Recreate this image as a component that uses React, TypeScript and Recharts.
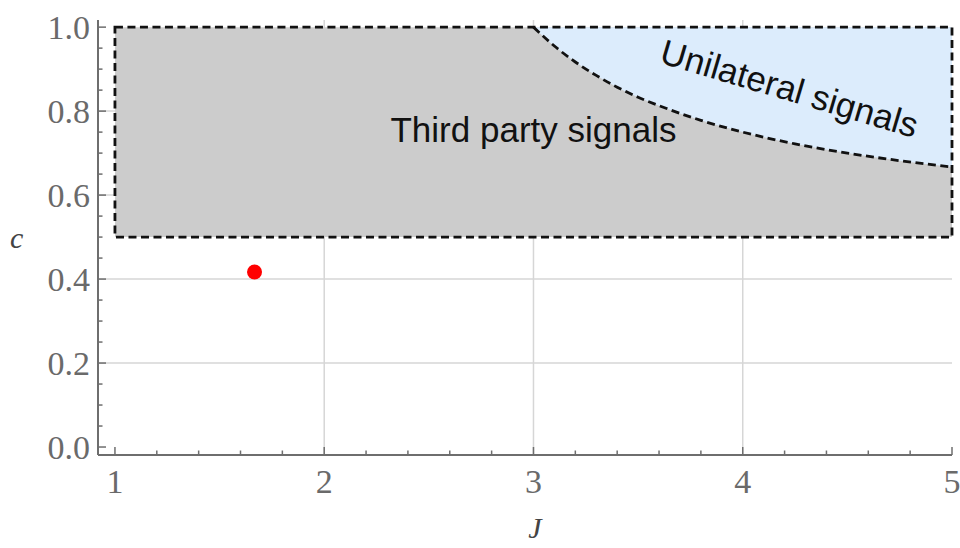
import {
  Area,
  CartesianGrid,
  ComposedChart,
  Line,
  ReferenceArea,
  ReferenceDot,
  Scatter,
  XAxis,
  YAxis,
} from 'recharts';

// boundary between third-party and unilateral signals
const boundaryJ = [3.0, 3.1, 3.2, 3.3, 3.4, 3.5, 3.6, 3.8, 4.0, 4.25, 4.5, 4.75, 5.0];
const boundaryC = [1.0, 0.955, 0.917, 0.885, 0.857, 0.833, 0.813, 0.778, 0.75, 0.722, 0.7, 0.682, 0.667];

// third party region (rectangle)
const regionJ = [1, 5];
const regionC = [0.5, 1];

// the red point
const pointJ = [1.667];
const pointC = [0.417];

const xMajor = [1, 2, 3, 4, 5];
const xTicks = [1, 1.2, 1.4, 1.6, 1.8, 2, 2.2, 2.4, 2.6, 2.8, 3, 3.2, 3.4, 3.6, 3.8, 4, 4.2, 4.4, 4.6, 4.8, 5];
const yMajor = [0, 0.2, 0.4, 0.6, 0.8, 1];
const yTicks = [
  0, 0.05, 0.1, 0.15, 0.2, 0.25, 0.3, 0.35, 0.4, 0.45, 0.5, 0.55, 0.6, 0.65, 0.7, 0.75, 0.8, 0.85, 0.9,
  0.95, 1,
];
const xGrid = [2, 3, 4];
const yGrid = [0.2, 0.4, 0.6, 0.8];

const curveData = boundaryJ.map((J, i) => ({ J, c: boundaryC[i], band: [boundaryC[i], 1] }));
const pointData = pointJ.map((J, i) => ({ J, c: pointC[i] }));

const isMajor = (v: number, majors: number[]) => majors.some((m) => Math.abs(m - v) < 1e-6);

const tickFont = { fontFamily: '"Liberation Serif", "Times New Roman", serif', fontSize: 34, fill: '#6a6a6a' };

function BottomTick({ x, y, payload }: any) {
  const major = isMajor(payload.value, xMajor);
  return (
    <g>
      <line x1={x} x2={x} y1={y} y2={y - (major ? 8 : 4.5)} stroke="#6e6e6e" strokeWidth={1.5} />
      {major && (
        <text x={x} y={y + 38} textAnchor="middle" {...tickFont}>
          {payload.value}
        </text>
      )}
    </g>
  );
}

function TopTick({ x, y, payload }: any) {
  const major = isMajor(payload.value, xMajor);
  return <line x1={x} x2={x} y1={y} y2={y + (major ? 8 : 4.5)} stroke="#9a9a9a" strokeWidth={1.5} />;
}

function LeftTick({ x, y, payload }: any) {
  const major = isMajor(payload.value, yMajor);
  return (
    <g>
      <line x1={x} x2={x + (major ? 8 : 4.5)} y1={y} y2={y} stroke="#6e6e6e" strokeWidth={1.5} />
      {major && (
        <text x={x - 8} y={y} textAnchor="end" dominantBaseline="central" {...tickFont}>
          {payload.value.toFixed(1)}
        </text>
      )}
    </g>
  );
}

function RightTick({ x, y, payload }: any) {
  const major = isMajor(payload.value, yMajor);
  return <line x1={x} x2={x - (major ? 8 : 4.5)} y1={y} y2={y} stroke="#9a9a9a" strokeWidth={1.5} />;
}

// text placed at a data point; tilt in degrees (clockwise)
function RegionLabel(props: any) {
  const { viewBox, text, tilt } = props;
  const cx = viewBox.x + (viewBox.width || 0) / 2;
  const cy = viewBox.y + (viewBox.height || 0) / 2;
  return (
    <text
      x={cx}
      y={cy}
      textAnchor="middle"
      transform={tilt ? `rotate(${tilt} ${cx} ${cy})` : undefined}
      fontFamily='"Liberation Sans", Arial, sans-serif'
      fontSize={35}
      fill="#111"
    >
      {text}
    </text>
  );
}

const RedDot = ({ cx, cy }: any) => <circle cx={cx} cy={cy} r={7.5} fill="#ff0000" />;

const dash = '8 4.5';

export default function App() {
  return (
    <div style={{ width: 960, height: 548 }}>
      <style>{'body{margin:0;overflow:hidden}'}</style>
      <ComposedChart width={960} height={548} data={curveData} margin={{ top: 20, right: 8, bottom: 0, left: 0 }}>
        <CartesianGrid horizontalValues={yGrid} verticalValues={xGrid} stroke="#d6d6d6" strokeWidth={1.5} />
        <XAxis
          dataKey="J"
          type="number"
          domain={[0.919, 5]}
          allowDataOverflow
          ticks={xTicks}
          interval={0}
          tickSize={0}
          tickMargin={0}
          tick={<BottomTick />}
          height={93}
          stroke="#6e6e6e"
          strokeWidth={2}
          label={{
            value: 'J',
            position: 'insideBottom',
            offset: 10,
            dx: 10,
            style: { fontFamily: '"Liberation Serif", serif', fontStyle: 'italic', fontSize: 30, fill: '#444' },
          }}
        />
        <XAxis
          xAxisId="top"
          orientation="top"
          dataKey="J"
          type="number"
          domain={[0.919, 5]}
          allowDataOverflow
          ticks={xTicks}
          interval={0}
          tickSize={0}
          tickMargin={0}
          tick={<TopTick />}
          height={0}
          stroke="#9a9a9a"
          strokeWidth={1.5}
        />
        <YAxis
          dataKey="c"
          type="number"
          domain={[-0.019, 1.017]}
          allowDataOverflow
          ticks={yTicks}
          interval={0}
          tickSize={0}
          tickMargin={0}
          tick={<LeftTick />}
          width={98}
          stroke="#6e6e6e"
          strokeWidth={2}
          label={{
            value: 'c',
            position: 'insideLeft',
            offset: 10,
            style: { fontFamily: '"Liberation Serif", serif', fontStyle: 'italic', fontSize: 30, fill: '#444' },
          }}
        />
        <YAxis
          yAxisId="right"
          orientation="right"
          dataKey="c"
          type="number"
          domain={[-0.019, 1.017]}
          allowDataOverflow
          ticks={yTicks}
          interval={0}
          tickSize={0}
          tickMargin={0}
          tick={<RightTick />}
          width={0}
          stroke="#9a9a9a"
          strokeWidth={1.5}
        />
        <ReferenceArea
          x1={regionJ[0]}
          x2={regionJ[1]}
          y1={regionC[0]}
          y2={regionC[1]}
          fill="#cccccc"
          fillOpacity={1}
          stroke="none"
        />
        <Area
          dataKey="band"
          type="monotone"
          fill="#dcecfc"
          fillOpacity={1}
          stroke="none"
          isAnimationActive={false}
        />
        <Line
          dataKey="c"
          type="monotone"
          stroke="#111"
          strokeWidth={2.8}
          strokeDasharray={dash}
          dot={false}
          isAnimationActive={false}
        />
        <ReferenceArea
          x1={regionJ[0]}
          x2={regionJ[1]}
          y1={regionC[0]}
          y2={regionC[1]}
          fill="none"
          stroke="#111"
          strokeWidth={2.8}
          strokeDasharray={dash}
        />
        <Scatter data={pointData} dataKey="c" shape={<RedDot />} isAnimationActive={false} />
        <ReferenceDot x={3.0} y={0.726} r={0} stroke="none" label={<RegionLabel text="Third party signals" />} />
        <ReferenceDot
          x={4.207}
          y={0.826}
          r={0}
          stroke="none"
          label={<RegionLabel text="Unilateral signals" tilt={16.5} />}
        />
      </ComposedChart>
    </div>
  );
}
